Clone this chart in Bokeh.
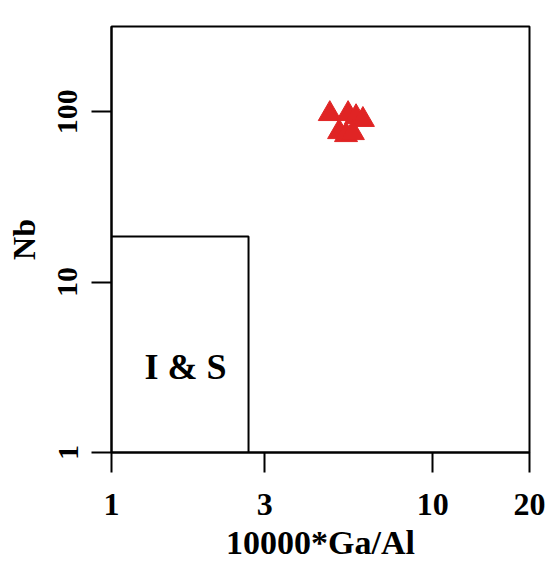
from bokeh.plotting import figure
from bokeh.models import Range1d, FixedTicker, PrintfTickFormatter
from bokeh.core.properties import value
from bokeh.embed import file_html
from bokeh.resources import INLINE

# data
ga_al = [4.78, 5.45, 5.77, 6.06, 5.11, 5.37, 5.64]
nb = [97, 97, 93, 89.6, 76, 73, 75]
x_ticks = [1, 3, 10, 20]
y_ticks = [1, 10, 100]
box_x = [1, 2.67, 2.67]
box_y = [18.5, 18.5, 1]
field_label = "I & S"
field_x = [1.70]
field_y = [3.16]

FONT = "Liberation Serif"

p = figure(width=548, height=563, x_axis_type="log", y_axis_type="log",
           x_range=Range1d(1, 20), y_range=Range1d(1, 316),
           output_backend="svg", toolbar_location=None,
           min_border_left=111, min_border_right=19,
           min_border_top=26, min_border_bottom=111)

p.background_fill_color = "white"
p.border_fill_color = "white"
p.outline_line_color = "black"
p.outline_line_width = 2
p.xgrid.visible = False
p.ygrid.visible = False

for ax, ticks in ((p.xaxis[0], x_ticks), (p.yaxis[0], y_ticks)):
    ax.ticker = FixedTicker(ticks=ticks, minor_ticks=[])
    ax.formatter = PrintfTickFormatter(format="%d")
    ax.axis_line_width = 2
    ax.major_tick_line_width = 2
    ax.major_tick_out = 20
    ax.major_tick_in = 0
    ax.minor_tick_out = 0
    ax.minor_tick_in = 0
    ax.major_label_text_font = FONT
    ax.major_label_text_font_style = "bold"
    ax.major_label_text_color = "black"
    ax.axis_label_text_font = FONT
    ax.axis_label_text_font_style = "bold"
    ax.axis_label_text_color = "black"

p.xaxis.major_label_text_font_size = "32px"
p.xaxis.major_label_standoff = 21
p.xaxis.axis_label = "10000*Ga/Al"
p.xaxis.axis_label_text_font_size = "34px"
p.xaxis.axis_label_standoff = 6

p.yaxis.major_label_text_font_size = "30px"
p.yaxis.major_label_orientation = "vertical"
p.yaxis.major_label_standoff = 14
p.yaxis.axis_label = "Nb"
p.yaxis.axis_label_text_font_size = "32px"
p.yaxis.axis_label_standoff = 14

p.line(box_x, box_y, line_color="black", line_width=2)
p.text(x=field_x, y=field_y, text=[field_label], text_font=value(FONT),
       text_font_style="bold", text_font_size="36px", text_align="center",
       text_baseline="middle", text_color="black")

p.scatter(ga_al, nb, marker="triangle", size=23, fill_color="#E02424",
          line_color="#E02424", line_width=1)

open("out.html", "w").write(file_html(p, INLINE))
